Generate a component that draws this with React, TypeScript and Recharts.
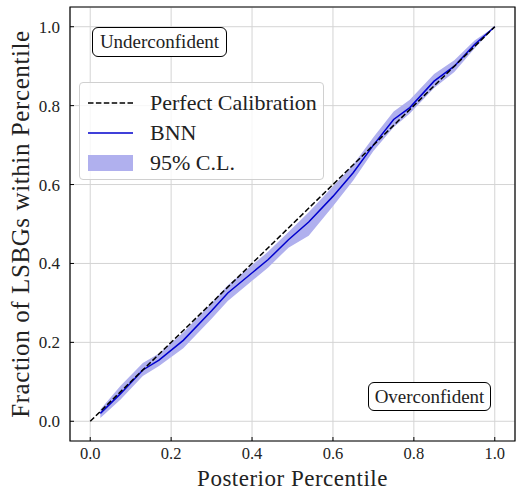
import React from "react";
import {
  ComposedChart,
  Area,
  Line,
  XAxis,
  YAxis,
  CartesianGrid,
  ReferenceLine,
  ReferenceArea,
} from "recharts";

const percentiles = [0.025, 0.075, 0.13, 0.17, 0.23, 0.3, 0.34, 0.44, 0.49, 0.54, 0.6, 0.65, 0.7, 0.75, 0.79, 0.85, 0.9, 0.95, 1.0];
const bnnFraction = [0.02, 0.07, 0.13, 0.155, 0.205, 0.28, 0.325, 0.41, 0.46, 0.505, 0.57, 0.63, 0.7, 0.765, 0.795, 0.862, 0.9, 0.955, 1.0];
const lowerCL = [0.008, 0.055, 0.115, 0.14, 0.185, 0.26, 0.305, 0.39, 0.44, 0.47, 0.545, 0.61, 0.685, 0.745, 0.78, 0.845, 0.885, 0.945, 1.0];
const upperCL = [0.03, 0.09, 0.148, 0.172, 0.225, 0.3, 0.345, 0.43, 0.48, 0.53, 0.595, 0.65, 0.72, 0.785, 0.815, 0.88, 0.915, 0.965, 1.0];
const ticks = [0, 0.2, 0.4, 0.6, 0.8, 1.0];

const data = percentiles.map((x, i) => ({
  x,
  bnn: bnnFraction[i],
  cl: [lowerCL[i], upperCL[i]],
}));

const FONT = "'Liberation Serif', 'DejaVu Serif', serif";
const BAND = "#b0b0ee";
const BNN_COLOR = "#0000cd";

function XTick(props: any) {
  const { x, y, payload } = props;
  return (
    <g>
      <line x1={x} x2={x} y1={y} y2={y - 4} stroke="#000" strokeWidth={1} />
      <text x={x} y={y + 18} textAnchor="middle" fontSize={16.5} fontFamily={FONT} fill="#222">
        {payload.value.toFixed(1)}
      </text>
    </g>
  );
}

function YTick(props: any) {
  const { x, y, payload } = props;
  return (
    <g>
      <line x1={x} x2={x + 4} y1={y} y2={y} stroke="#000" strokeWidth={1} />
      <text x={x - 10} y={y + 6} textAnchor="end" fontSize={17} fontFamily={FONT} fill="#222">
        {payload.value.toFixed(1)}
      </text>
    </g>
  );
}

function CalibLegend() {
  const row: React.CSSProperties = { display: "flex", alignItems: "center", height: 30 };
  const label: React.CSSProperties = { marginLeft: 17, fontSize: 22, color: "#222" };
  return (
    <div
      style={{
        position: "absolute",
        left: 79,
        top: 82,
        width: 245,
        height: 98,
        boxSizing: "border-box",
        border: "1px solid #d0d0d0",
        borderRadius: 4,
        background: "rgba(255,255,255,0.8)",
        padding: "5px 0 0 8px",
        fontFamily: FONT,
      }}
    >
      <div style={row}>
        <svg width={45} height={10}>
          <line x1={0} x2={45} y1={5} y2={5} stroke="#000" strokeWidth={1.5} strokeDasharray="5.5 2.4" />
        </svg>
        <span style={label}>Perfect Calibration</span>
      </div>
      <div style={row}>
        <svg width={45} height={10}>
          <line x1={0} x2={45} y1={5} y2={5} stroke={BNN_COLOR} strokeWidth={1.5} />
        </svg>
        <span style={label}>BNN</span>
      </div>
      <div style={row}>
        <svg width={45} height={16}>
          <rect x={0} y={0} width={45} height={16} fill={BAND} />
        </svg>
        <span style={label}>95% C.L.</span>
      </div>
    </div>
  );
}

const boxStyle: React.CSSProperties = {
  position: "absolute",
  boxSizing: "border-box",
  border: "1px solid #000",
  borderRadius: 6,
  background: "#fff",
  fontFamily: FONT,
  fontSize: 19,
  color: "#222",
  display: "flex",
  alignItems: "center",
  justifyContent: "center",
};

export default function App() {
  return (
    <div style={{ position: "absolute", left: 0, top: 0, width: 516, height: 490, background: "#fff" }}>
      <ComposedChart width={516} height={490} data={data} margin={{ top: 7, right: 1, left: 0, bottom: 0 }}>
        <CartesianGrid stroke="#d4d4d4" strokeWidth={1} />
        <XAxis
          dataKey="x"
          type="number"
          domain={[-0.05, 1.05]}
          ticks={ticks}
          tick={<XTick />}
          tickLine={false}
          tickSize={0}
          tickMargin={0}
          axisLine={false}
          height={49}
          label={{ value: "Posterior Percentile", position: "insideBottom", offset: 4, fontSize: 23, fontFamily: FONT, fill: "#222", style: { letterSpacing: "0.5px" } }}
        />
        <YAxis
          type="number"
          domain={[-0.05, 1.05]}
          ticks={ticks}
          tick={<YTick />}
          tickLine={false}
          tickSize={0}
          tickMargin={0}
          axisLine={false}
          width={70}
          label={{ value: "Fraction of LSBGs within Percentile", angle: -90, position: "insideLeft", offset: 20, fontSize: 25, fontFamily: FONT, fill: "#222", style: { textAnchor: "middle", letterSpacing: "0.6px" } }}
        />
        <Area
          dataKey="cl"
          type="linear"
          stroke="none"
          fill={BAND}
          fillOpacity={1}
          isAnimationActive={false}
        />
        <Line
          dataKey="bnn"
          type="linear"
          stroke={BNN_COLOR}
          strokeWidth={1.5}
          dot={false}
          isAnimationActive={false}
        />
        <ReferenceLine
          segment={[{ x: 0, y: 0 }, { x: 1, y: 1 }]}
          stroke="#000"
          strokeWidth={1.5}
          strokeDasharray="5.5 2.4"
        />
        <ReferenceArea x1={-0.05} x2={1.05} y1={-0.05} y2={1.05} fill="none" stroke="#000" strokeWidth={1.2} ifOverflow="visible" />
      </ComposedChart>
      <CalibLegend />
      <div style={{ ...boxStyle, left: 92, top: 27, width: 135, height: 30 }}>Underconfident</div>
      <div style={{ ...boxStyle, left: 368, top: 382, width: 123, height: 29 }}>Overconfident</div>
    </div>
  );
}
